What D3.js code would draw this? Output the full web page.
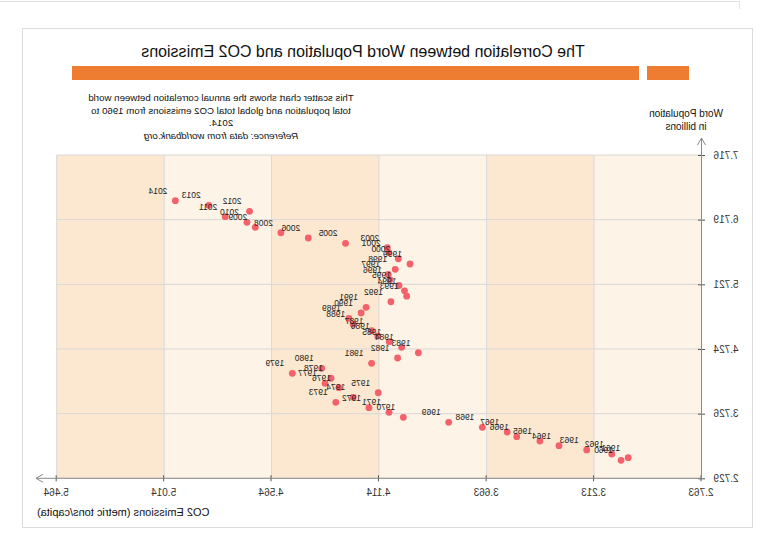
<!DOCTYPE html>
<html>
<head>
<meta charset="utf-8">
<script src="https://cdn.jsdelivr.net/npm/d3@7"></script>
<style>
  html, body { margin: 0; padding: 0; background: #fff; }
  svg { display: block; font-family: "Liberation Sans", Arial, sans-serif; }
</style>
</head>
<body>
<svg id="chart" width="780" height="540"></svg>
<script>
// ---- Data ----
const years = [1960,1961,1962,1963,1964,1965,1966,1967,1968,1969,
  1970,1971,1972,1973,1974,1975,1976,1977,1978,1979,
  1980,1981,1982,1983,1984,1985,1986,1987,1988,1989,
  1990,1991,1992,1993,1994,1995,1996,1997,1998,1999,
  2000,2001,2003,2005,2006,2008,2009,2010,2011,2012,2013,2014];
const co2PerCapita = [3.100,3.070,3.139,3.244,3.360,3.440,3.537,3.577,3.681,3.822,
  4.012,4.072,4.156,4.295,4.222,4.117,4.282,4.340,4.315,4.477,
  4.354,4.145,4.036,3.949,4.019,4.071,4.119,4.145,4.222,4.240,
  4.189,4.168,4.064,3.998,4.007,4.030,4.068,4.075,4.046,3.984,
  4.033,4.073,4.079,4.254,4.410,4.525,4.632,4.667,4.758,4.656,4.827,4.967];
const population = [3.007,3.047,3.104,3.166,3.232,3.304,3.371,3.443,3.516,3.593,
  3.670,3.747,3.818,3.901,3.978,4.049,4.127,4.194,4.272,4.349,
  4.426,4.503,4.585,4.666,4.750,4.836,4.924,5.006,5.104,5.197,
  5.279,5.367,5.452,5.538,5.621,5.703,5.792,5.876,5.953,6.035,
  6.116,6.209,6.286,6.354,6.436,6.517,6.601,6.678,6.764,6.847,6.940,7.011];
const xTickValues = [2.763,3.213,3.663,4.114,4.564,5.014,5.464];
const yTickValues = [2.729,3.726,4.724,5.721,6.719,7.716];
const titleText = "The Correlation between Word Population and CO2 Emissions";
const descriptionLines = [
  "This scatter chart shows the annual correlation between world",
  "total population and global total CO2 emissions from 1960 to",
  "2014."
];
const referenceText = "Reference: data from worldbank.org";
const yAxisLabel = ["Word Population", "in billions"];
const xAxisLabel = "CO2 Emissions (metric tons/capita)";

const points = years.map((yr, i) => ({ year: yr, co2: co2PerCapita[i], pop: population[i] }));

// ---- Layout ----
const svg = d3.select("#chart");
// the reference picture is horizontally mirrored
const root = svg.append("g").attr("transform", "translate(780,0) scale(-1,1)");

const x = d3.scaleLinear().domain([xTickValues[0], xTickValues[xTickValues.length - 1]]).range([78.5, 723.3]);
const y = d3.scaleLinear().domain([yTickValues[0], yTickValues[yTickValues.length - 1]]).range([478.3, 155]);

// outer frames
root.append("path").attr("d", "M780,1.5H40.5V9").attr("fill", "none").attr("stroke", "#e2e2e2");
root.append("rect").attr("x", 27.5).attr("y", 28.5).attr("width", 730).attr("height", 499)
  .attr("fill", "none").attr("stroke", "#dcdcdc");

// title
root.append("text").attr("x", 417).attr("y", 57).attr("text-anchor", "middle")
  .attr("font-size", 16).attr("fill", "#111").text(titleText);

// orange bars
root.append("rect").attr("x", 91).attr("y", 66).attr("width", 42).attr("height", 14).attr("fill", "#ef7d31");
root.append("rect").attr("x", 141).attr("y", 66).attr("width", 567).attr("height", 14).attr("fill", "#ef7d31");

// description
const desc = root.append("text").attr("text-anchor", "middle").attr("font-size", 9.7).attr("fill", "#111");
descriptionLines.forEach((ln, i) => {
  desc.append("tspan").attr("x", 559).attr("y", 101 + i * 12.5).text(ln);
});
root.append("text").attr("x", 559).attr("y", 101 + 3 * 12.5).attr("text-anchor", "middle")
  .attr("font-size", 9.7).attr("font-style", "italic").attr("fill", "#111").text(referenceText);

// bands
for (let i = 0; i < xTickValues.length - 1; i++) {
  root.append("rect")
    .attr("x", x(xTickValues[i])).attr("y", y(yTickValues[yTickValues.length - 1]))
    .attr("width", x(xTickValues[i + 1]) - x(xTickValues[i]))
    .attr("height", y(yTickValues[0]) - y(yTickValues[yTickValues.length - 1]))
    .attr("fill", i % 2 === 0 ? "#fdf3e6" : "#fce8d0");
}

// grid
root.append("g").selectAll("line").data(xTickValues).join("line")
  .attr("x1", d => x(d)).attr("x2", d => x(d))
  .attr("y1", y.range()[1]).attr("y2", y.range()[0])
  .attr("stroke", "#d8d8d8");
root.append("g").selectAll("line").data(yTickValues).join("line")
  .attr("y1", d => y(d)).attr("y2", d => y(d))
  .attr("x1", x.range()[0]).attr("x2", x.range()[1])
  .attr("stroke", "#d8d8d8");

// axes
const fmt = d3.format(".3f");
const xAxis = root.append("g").attr("transform", `translate(0,${y.range()[0]})`)
  .call(d3.axisBottom(x).tickValues(xTickValues).tickFormat(fmt).tickSize(3).tickPadding(8));
xAxis.select(".domain").remove();
xAxis.selectAll(".tick line").attr("y1", -3).attr("y2", 3).attr("stroke", "#555");
xAxis.selectAll(".tick text").attr("font-size", 10).attr("fill", "#333")
  .attr("font-family", "Liberation Sans, Arial, sans-serif");

const yAxis = root.append("g").attr("transform", `translate(${x.range()[0]},0)`)
  .call(d3.axisLeft(y).tickValues(yTickValues).tickFormat(fmt).tickSize(3).tickPadding(9));
yAxis.select(".domain").remove();
yAxis.selectAll(".tick line").attr("x1", -3.5).attr("x2", 3.5).attr("stroke", "#555");
yAxis.selectAll(".tick text").attr("font-size", 10).attr("fill", "#333")
  .attr("font-family", "Liberation Sans, Arial, sans-serif");

// axis lines with open arrows
const axisColor = "#8a8a8a";
const x0 = x.range()[0], yb = y.range()[0];
root.append("line").attr("x1", x0).attr("x2", 744).attr("y1", yb).attr("y2", yb).attr("stroke", axisColor);
root.append("path").attr("d", `M737,${yb - 4}L744,${yb}L737,${yb + 4}`).attr("fill", "none").attr("stroke", axisColor);
root.append("line").attr("x1", x0).attr("x2", x0).attr("y1", yb).attr("y2", 138).attr("stroke", axisColor);
root.append("path").attr("d", `M${x0 - 4},145L${x0},138L${x0 + 4},145`).attr("fill", "none").attr("stroke", axisColor);

// axis titles
const yl = root.append("text").attr("text-anchor", "middle").attr("font-size", 10).attr("fill", "#111");
yAxisLabel.forEach((ln, i) => yl.append("tspan").attr("x", 94).attr("y", 117 + i * 13).text(ln));
root.append("text").attr("x", 743).attr("y", 516).attr("text-anchor", "end")
  .attr("font-size", 11).attr("fill", "#111").text(xAxisLabel);

// points and labels
const g = root.append("g");
g.selectAll("circle").data(points).join("circle")
  .attr("cx", d => x(d.co2)).attr("cy", d => y(d.pop)).attr("r", 3.4)
  .attr("fill", "#f4616a");
g.selectAll("text").data(points).join("text")
  .attr("x", d => x(d.co2) + 8).attr("y", d => y(d.pop) - 7)
  .attr("font-size", 8.5).attr("fill", "#222").text(d => d.year);
</script>
</body>
</html>
